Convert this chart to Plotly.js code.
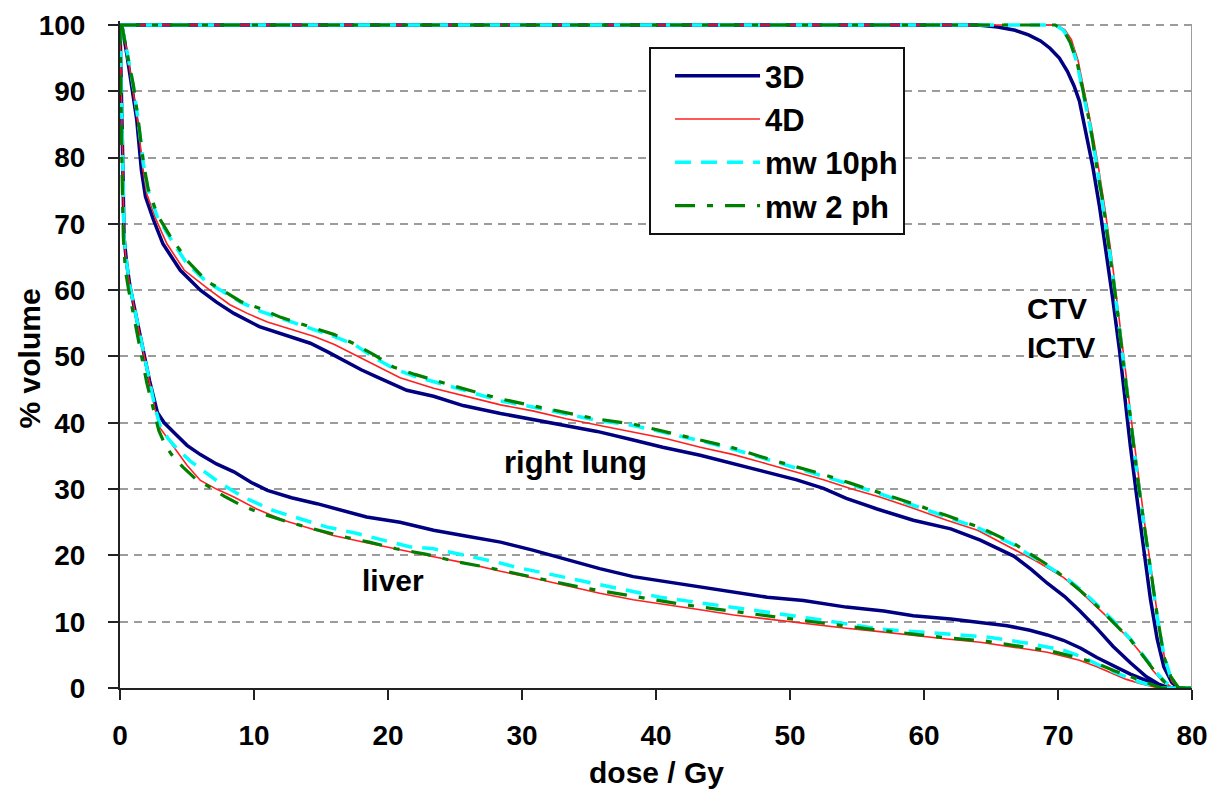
<!DOCTYPE html>
<html>
<head>
<meta charset="utf-8">
<script src="https://cdn.plot.ly/plotly-3.0.1.min.js"></script>
<style>html,body{margin:0;padding:0;background:#fff;}#chart{width:1215px;height:795px;}</style>
</head>
<body>
<div id="chart"></div>
<script>
// ---- series names ----
const seriesNames = ["3D", "4D", "mw 10ph", "mw 2 ph"];

// ---- CTV / ICTV ----
const ctvDose3D = [0, 64, 65.5, 66.8, 67.8, 68.7, 69.4, 70.1, 70.7, 71.2, 71.6, 72.1, 72.6, 73.1, 73.6, 74.1, 74.6, 75.0, 75.4, 75.9, 76.4, 76.9, 77.4, 77.9, 78.5, 79.0, 80];
const ctv3D     = [100, 100, 99.7, 99.2, 98.5, 97.6, 96.5, 95.0, 93.0, 90.8, 88.5, 83.8, 78.6, 72.6, 65.8, 58.5, 50.8, 43.5, 36.5, 28.5, 20.8, 13.4, 7.4, 3.2, 0.8, 0, 0];
const ctvDose4D = [0, 69.9, 70.5, 71.0, 71.5, 72.0, 72.5, 73.0, 73.5, 74.0, 74.5, 75.0, 75.5, 76.0, 76.5, 77.0, 77.5, 78.0, 78.5, 79.0, 80];
const ctv4D     = [100, 100, 99.3, 97.8, 94.6, 89.8, 84.6, 78.8, 72.3, 65.0, 57.0, 48.5, 40.0, 31.8, 24.3, 17.2, 9.8, 4.0, 1.0, 0, 0];
const ctvDoseMw = [0, 69.8, 70.4, 70.9, 71.4, 71.9, 72.4, 72.9, 73.4, 73.9, 74.4, 74.9, 75.4, 75.9, 76.4, 76.9, 77.4, 77.9, 78.4, 79.0, 80];
const ctvMw10   = [100, 100, 99.2, 97.6, 94.4, 89.8, 84.6, 78.8, 72.4, 65.2, 57.2, 48.8, 40.6, 32.4, 24.8, 17.8, 10.8, 5.0, 1.6, 0, 0];
const ctvMw2    = [100, 100, 99.3, 97.4, 94.6, 89.5, 84.9, 78.5, 72.7, 64.9, 57.5, 48.5, 40.9, 32.1, 25.1, 17.5, 11.0, 4.8, 1.8, 0, 0];

// ---- right lung ----
const lungDose3D = [0, 0.15, 0.5, 0.9, 1.25, 1.6, 1.9, 2.5, 3.2, 4.5, 6.0, 7.2, 8.5, 10.4, 12.0, 14.2, 15.5, 16.7, 18.0, 19.2, 21.4, 23.4, 25.6, 28.4, 30.5, 33.3, 35.6, 38.3, 40.5, 43.3, 45.5, 48.3, 50.5, 52.5, 54.2, 56.5, 59.2, 62.0, 64.2, 66.7, 68.0, 69.2, 70.5, 71.6, 72.9, 74.1, 75.4, 76.6, 77.5, 78.3, 80];
const lung3D     = [100, 99.8, 95.7, 90.7, 85.7, 78.1, 74.1, 70.6, 67.0, 63.0, 60.0, 58.2, 56.5, 54.5, 53.4, 52.0, 50.7, 49.4, 48.0, 46.9, 44.9, 44.0, 42.6, 41.4, 40.6, 39.5, 38.7, 37.4, 36.3, 35.1, 34.0, 32.6, 31.4, 30.1, 28.6, 27.0, 25.3, 24.0, 22.3, 19.9, 17.9, 15.8, 13.8, 11.7, 9.0, 6.3, 3.8, 1.7, 0.6, 0, 0];
const lungDose4D = [0, 0.15, 0.55, 0.95, 1.3, 1.7, 2.0, 2.7, 3.5, 4.8, 6.7, 8.2, 9.5, 11, 12.5, 14.5, 16.0, 17.2, 18.7, 20.9, 23.4, 25.9, 28.4, 30.8, 33.3, 35.8, 38.3, 40.8, 43.3, 45.8, 48.3, 50.5, 52.5, 54.5, 56.7, 59.2, 61.7, 64.0, 66.7, 68.5, 70.4, 71.7, 72.9, 74.2, 75.4, 76.2, 77.1, 77.8, 78.6, 80];
const lung4D     = [100, 99.8, 95.7, 90.7, 85.7, 78.5, 74.5, 70.6, 67.0, 63.0, 60.0, 57.8, 56.5, 55.2, 54.3, 53.0, 51.8, 50.6, 49.0, 46.8, 45.2, 44.0, 42.7, 41.8, 40.6, 39.6, 38.6, 37.6, 36.3, 35.2, 33.8, 32.6, 31.4, 30.1, 28.8, 27.1, 25.3, 23.8, 20.9, 19.0, 16.7, 14.5, 12.2, 9.7, 7.2, 5.2, 2.6, 1.0, 0, 0];
const lungDoseMw = [0, 0.15, 0.55, 1.0, 1.35, 1.75, 2.1, 2.8, 3.7, 5.0, 6.5, 7.5, 9.0, 10.5, 12.0, 14.5, 16.0, 17.5, 19.0, 20.4, 22.0, 25.0, 28.4, 30.5, 33.3, 35.5, 38.3, 40.8, 43.3, 45.8, 48.3, 50.5, 52.5, 54.5, 56.7, 59.2, 61.7, 64.2, 66.7, 68.0, 69.2, 70.4, 71.6, 72.9, 74.2, 75.4, 76.4, 77.3, 78.0, 78.7, 80];
const lungMw10   = [100, 99.8, 95.7, 90.7, 85.7, 79.0, 75.0, 71.0, 68.0, 64.0, 61.2, 60.0, 58.2, 56.8, 55.8, 54.0, 53.0, 51.8, 49.8, 48.2, 47.0, 45.3, 43.3, 42.5, 41.3, 40.4, 39.6, 38.5, 37.3, 36.0, 34.5, 33.2, 32.0, 30.7, 29.3, 27.6, 25.8, 24.0, 21.6, 19.9, 18.4, 16.9, 15.0, 12.6, 10.0, 7.4, 4.8, 2.4, 0.9, 0, 0];
const lungMw2    = [100, 99.8, 95.5, 90.9, 85.9, 79.2, 75.3, 71.3, 68.3, 64.5, 61.3, 60.2, 58.3, 57.2, 55.9, 54.2, 53.3, 51.9, 50.2, 48.4, 47.3, 45.5, 43.6, 42.7, 41.5, 40.6, 39.8, 38.6, 37.5, 36.2, 34.6, 33.4, 32.2, 30.9, 29.5, 27.8, 26.0, 24.2, 21.8, 20.1, 18.6, 16.8, 14.8, 12.4, 9.8, 7.3, 4.7, 2.3, 0.8, 0, 0];

// ---- liver ----
const liverDose3D = [0, 0.1, 0.2, 0.3, 0.5, 0.75, 1.0, 1.25, 1.75, 2.2, 2.8, 3.3, 4.1, 5.0, 6.0, 7.2, 8.5, 9.8, 11.0, 12.8, 14.7, 16.5, 18.4, 20.9, 23.4, 25.9, 28.4, 30.8, 33.3, 35.8, 38.3, 40.8, 43.3, 45.8, 48.3, 51.0, 54.2, 57.0, 59.2, 62.0, 64.2, 66.2, 67.9, 69.2, 70.4, 71.7, 72.9, 74.2, 75.4, 76.6, 77.4, 78.0, 80];
const liver3D     = [100, 92, 80, 68, 64, 60.5, 58, 55.5, 50.4, 46.4, 41.5, 40.0, 38.4, 36.6, 35.2, 33.8, 32.6, 31.0, 29.8, 28.7, 27.8, 26.8, 25.8, 25.0, 23.8, 22.9, 22.0, 20.8, 19.4, 18.0, 16.8, 16.0, 15.2, 14.4, 13.7, 13.2, 12.2, 11.6, 10.9, 10.4, 9.9, 9.4, 8.7, 8.0, 7.2, 6.0, 4.6, 3.3, 2.1, 1.1, 0.5, 0, 0];
const liverDose4D = [0, 0.1, 0.2, 0.3, 0.5, 0.75, 1.0, 1.25, 1.75, 2.2, 2.6, 3.0, 3.6, 4.2, 5.0, 6.0, 7.2, 8.5, 10.2, 12.2, 14.0, 15.9, 18.4, 20.9, 23.4, 25.9, 28.4, 30.8, 33.3, 35.8, 38.3, 40.8, 43.3, 45.8, 48.3, 51.0, 54.2, 56.7, 59.2, 61.7, 64.2, 66.7, 69.2, 70.4, 71.6, 72.9, 74.1, 75.1, 76.1, 76.9, 77.5, 80];
const liver4D     = [100, 92, 80, 68, 63.5, 60.5, 58, 55.5, 50.4, 46.4, 42.2, 39.2, 37.5, 35.8, 33.6, 31.3, 30.0, 28.8, 27.0, 25.3, 24.2, 23.0, 21.9, 20.8, 19.8, 18.8, 17.6, 16.6, 15.4, 14.3, 13.3, 12.6, 11.8, 11.0, 10.4, 9.8, 9.0, 8.5, 7.9, 7.4, 6.9, 6.2, 5.4, 4.8, 4.2, 3.2, 2.1, 1.3, 0.7, 0.3, 0, 0];
const liverDoseMw10 = [0, 0.1, 0.2, 0.3, 0.5, 0.75, 1.0, 1.25, 1.75, 2.2, 2.6, 3.0, 3.6, 4.2, 5.2, 6.2, 7.2, 8.2, 9.2, 11.4, 13.4, 15.4, 17.7, 19.6, 21.6, 23.4, 25.9, 28.1, 29.6, 32.7, 35.8, 38.1, 40.3, 42.4, 44.6, 47.4, 50.2, 53.5, 56.7, 60.7, 64.7, 67.6, 70.4, 71.9, 73.4, 74.8, 76.1, 77.0, 77.7, 80];
const liverMw10     = [100, 92, 80, 68, 64, 60.5, 58, 55.5, 50.4, 46.4, 42.4, 39.5, 37.6, 36.2, 34.3, 32.8, 31.3, 30.0, 28.8, 26.8, 25.5, 24.3, 23.3, 22.3, 21.3, 21.0, 20.0, 19.0, 18.2, 16.9, 15.5, 14.6, 13.7, 13.1, 12.5, 11.7, 10.9, 9.9, 8.9, 8.3, 7.7, 6.8, 5.7, 4.6, 3.1, 1.9, 0.9, 0.4, 0, 0];
const liverDoseMw2  = [0, 0.05, 0.15, 0.25, 0.4, 0.65, 0.95, 1.2, 1.6, 2.0, 2.5, 2.9, 3.4, 4.0, 4.7, 5.6, 6.6, 7.8, 9.0, 10.6, 12.6, 14.6, 16.5, 18.6, 20.6, 22.8, 25.0, 27.4, 29.6, 32.0, 34.6, 37.0, 39.6, 42.0, 44.5, 47.0, 49.6, 52.4, 55.5, 58.5, 61.5, 64.5, 67.0, 69.4, 71.2, 72.8, 74.2, 75.5, 76.5, 77.3, 77.8, 80];
const liverMw2      = [100, 90, 78, 68, 63, 60, 57, 54.5, 50, 46, 42, 38.8, 36.5, 34.8, 33.3, 31.6, 30.4, 28.9, 27.6, 26.3, 25.0, 23.9, 22.9, 22.0, 21.0, 20.2, 19.1, 18.2, 17.2, 16.2, 15.1, 14.3, 13.4, 12.6, 11.9, 11.2, 10.5, 9.8, 9.0, 8.3, 7.6, 7.1, 6.3, 5.6, 4.7, 3.8, 2.6, 1.6, 0.8, 0.3, 0, 0];

// ---- axis ticks ----
const xTicks = [0, 10, 20, 30, 40, 50, 60, 70, 80];
const yTicks = [0, 10, 20, 30, 40, 50, 60, 70, 80, 90, 100];

function joinParts(parts) {
  const x = [], y = [];
  parts.forEach((p, i) => {
    if (i > 0) { x.push(null); y.push(null); }
    p[0].forEach(v => x.push(v));
    p[1].forEach(v => y.push(v));
  });
  return {x, y};
}

const s3D   = joinParts([[ctvDose3D, ctv3D], [lungDose3D, lung3D], [liverDose3D, liver3D]]);
const s4D   = joinParts([[ctvDose4D, ctv4D], [lungDose4D, lung4D], [liverDose4D, liver4D]]);
const sMw10 = joinParts([[ctvDoseMw, ctvMw10], [lungDoseMw, lungMw10], [liverDoseMw10, liverMw10]]);
const sMw2  = joinParts([[ctvDoseMw, ctvMw2], [lungDoseMw, lungMw2], [liverDoseMw2, liverMw2]]);

const FONT = 'Liberation Sans, Arial, sans-serif';
const f = (size) => ({family: FONT, size: size, color: '#000', weight: 'bold'});

const traces = [
  {x: s3D.x, y: s3D.y, name: seriesNames[0], mode: 'lines', connectgaps: false, legendgroup: 'a',
   line: {color: '#000080', width: 3.5}},
  {x: s4D.x, y: s4D.y, name: seriesNames[1], mode: 'lines', connectgaps: false, legendgroup: 'b',
   line: {color: '#ff2020', width: 1.6}},
  {x: sMw10.x, y: sMw10.y, name: seriesNames[2], mode: 'lines', connectgaps: false, legendgroup: 'c',
   line: {color: '#00ffff', width: 3.5, dash: '16px,10px'}},
  {x: sMw2.x, y: sMw2.y, name: seriesNames[3], mode: 'lines', connectgaps: false, legendgroup: 'd',
   line: {color: '#008000', width: 3.2, dash: '20px,12px,6px,12px'}}
];

const layout = {
  width: 1215, height: 795,
  margin: {l: 120, r: 23, t: 21, b: 107},
  paper_bgcolor: '#ffffff', plot_bgcolor: '#ffffff',
  font: f(28),
  showlegend: true,
  legend: {
    x: 0.4935, y: 0.961, xanchor: 'left', yanchor: 'top',
    bgcolor: '#ffffff', bordercolor: '#111111', borderwidth: 2,
    font: f(31),
    itemwidth: 85, indentation: 19, tracegroupgap: 0, traceorder: 'grouped'
  },
  xaxis: {
    range: [0, 80], tickvals: xTicks, ticktext: xTicks.map(String),
    showgrid: false, zeroline: false,
    showline: true, linecolor: '#222', linewidth: 2,
    ticks: 'outside', ticklen: 10, tickwidth: 2, tickcolor: '#222',
    ticklabelstandoff: 11,
    tickfont: f(28)
  },
  yaxis: {
    range: [0, 100.6], tickvals: yTicks, ticktext: yTicks.map(String),
    showgrid: true, gridcolor: '#9c9c9c', gridwidth: 2, griddash: '8px,6px',
    zeroline: false,
    showline: true, linecolor: '#222', linewidth: 2,
    ticks: 'outside', ticklen: 10, tickwidth: 2, tickcolor: '#222',
    ticklabelstandoff: 17,
    tickfont: f(28)
  },
  shapes: [
    {type: 'line', xref: 'x', yref: 'y', x0: 80, x1: 80, y0: 0, y1: 100,
     line: {color: '#9c9c9c', width: 2}}
  ],
  annotations: [
    {x: 40, y: -0.1274, xref: 'x', yref: 'paper', text: 'dose / Gy', showarrow: false,
     xanchor: 'center', yanchor: 'middle', font: f(30)},
    {x: -0.084, y: 49.7, xref: 'paper', yref: 'y', text: '% volume', showarrow: false,
     textangle: -90, xanchor: 'center', yanchor: 'middle', font: f(30)},
    {x: 34.0, y: 34.0, xref: 'x', yref: 'y', text: 'right lung', showarrow: false, font: f(31)},
    {x: 20.4, y: 16.2, xref: 'x', yref: 'y', text: 'liver', showarrow: false, font: f(30)},
    {x: 67.5, y: 57.3, xref: 'x', yref: 'y', text: 'CTV', showarrow: false, xanchor: 'left', font: f(30)},
    {x: 67.5, y: 51.4, xref: 'x', yref: 'y', text: 'ICTV', showarrow: false, xanchor: 'left', font: f(30)}
  ]
};

Plotly.newPlot('chart', traces, layout, {displayModeBar: false, staticPlot: true});
</script>
</body>
</html>
